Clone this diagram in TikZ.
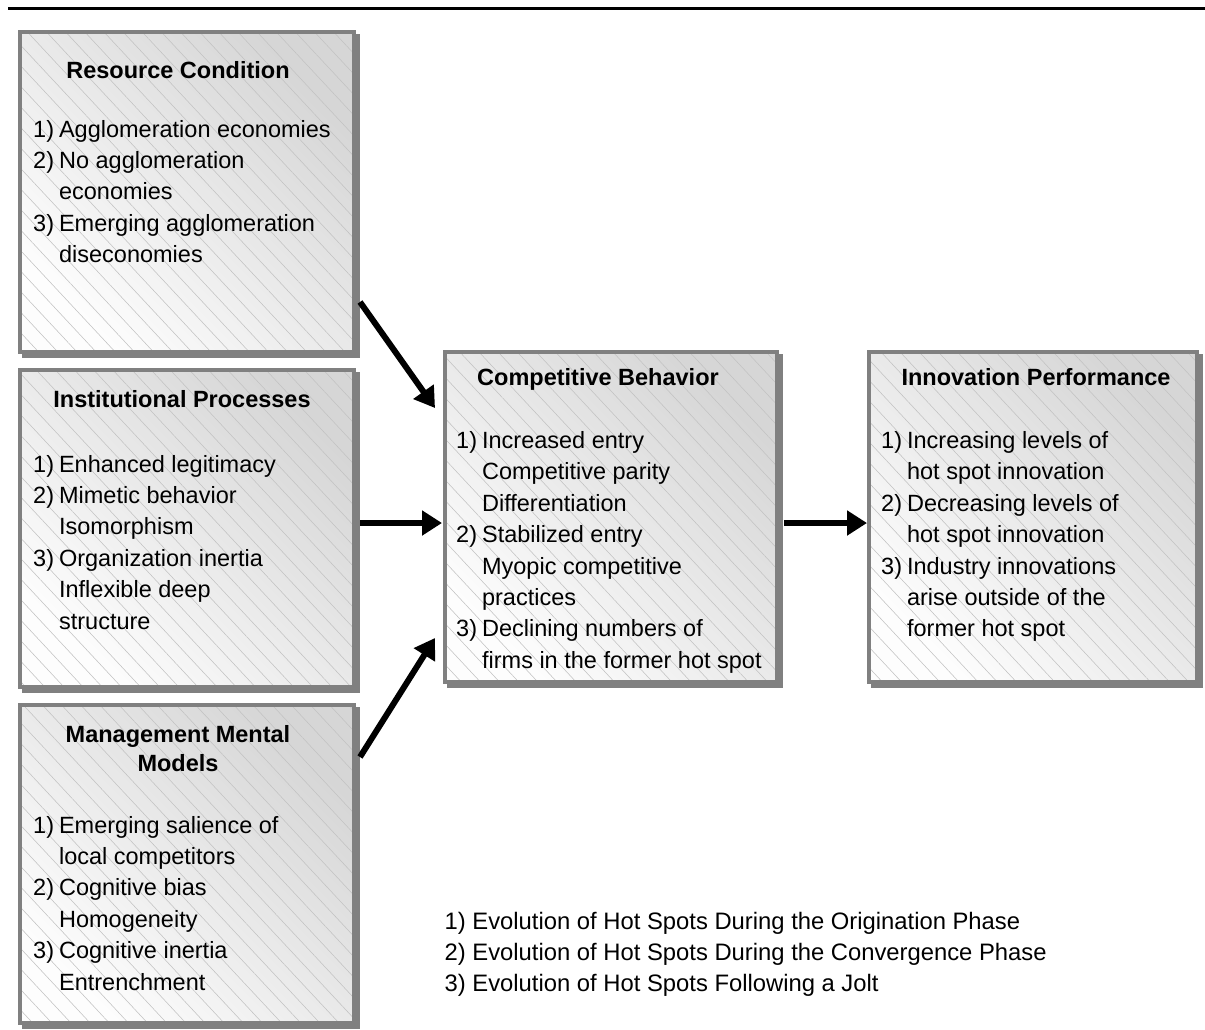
\documentclass[tikz,border=0pt]{standalone}
\usepackage{fontspec}
\setmainfont{Liberation Sans}
\usetikzlibrary{arrows.meta,patterns.meta,shadows}

\definecolor{framegray}{HTML}{808080}
\definecolor{shadelight}{HTML}{FDFDFD}
\definecolor{shadedark}{HTML}{D6D6D6}
\definecolor{hatchgray}{HTML}{C2C2C2}

\tikzset{
  panel/.style={rectangle, draw=framegray, line width=4pt, inner sep=0pt,
    drop shadow={shadow xshift=4pt, shadow yshift=-4pt, fill=framegray,
      draw=framegray, line width=4pt, opacity=1},
    preaction={shade, top color=shadedark, bottom color=shadelight, shading angle=-45},
    preaction={pattern={Lines[angle=-47,distance=14pt,line width=0.55pt]},
      pattern color=hatchgray}},
  paneltitle/.style={anchor=base, inner sep=0pt,
    font=\fontsize{23.5}{29}\selectfont\bfseries},
  paneltext/.style={anchor=base west, inner sep=0pt,
    font=\fontsize{23.5}{31.4}\selectfont},
  legendtext/.style={anchor=base west, inner sep=0pt,
    font=\fontsize{23.8}{31.3}\selectfont},
  flow/.style={line width=6pt, -{Triangle[length=20pt,width=24pt]}}
}

\begin{document}
\begin{tikzpicture}[x=1pt,y=-1pt]
\useasboundingbox (0,0) rectangle (1205,1029);

% rule across the top
\draw[line width=2.7pt] (8,8.5) -- (1205,8.5);

% panels
\node[panel, minimum width=334pt, minimum height=320pt] (b1) at (187,192) {};
\node[panel, minimum width=334pt, minimum height=317pt] (b2) at (187,528.5) {};
\node[panel, minimum width=334pt, minimum height=318pt] (b3) at (187,864) {};
\node[panel, minimum width=332pt, minimum height=330pt] (b4) at (611,517) {};
\node[panel, minimum width=328pt, minimum height=330pt] (b5) at (1033,517) {};

% panel titles
\node[paneltitle] (t1) at (178,78) {Resource Condition};
\node[paneltitle] (t2) at (182,407) {Institutional Processes};
\node[paneltitle] (t3) at (178,742) {\begin{tabular}[t]{@{}c@{}}Management Mental\\Models\end{tabular}};
\node[paneltitle] (t4) at (598,385) {Competitive Behavior};
\node[paneltitle] (t5) at (1036,385) {Innovation Performance};

% panel contents
\node[paneltext] (i1) at (33,137) {\begin{tabular}[t]{@{}l@{\hspace{5pt}}l@{}}
1) & Agglomeration economies\\
2) & No agglomeration\\
   & economies\\
3) & Emerging agglomeration\\
   & diseconomies
\end{tabular}};

\node[paneltext] (i2) at (33,472) {\begin{tabular}[t]{@{}l@{\hspace{5pt}}l@{}}
1) & Enhanced legitimacy\\
2) & Mimetic behavior\\
   & Isomorphism\\
3) & Organization inertia\\
   & Inflexible deep\\
   & structure
\end{tabular}};

\node[paneltext] (i3) at (33,833) {\begin{tabular}[t]{@{}l@{\hspace{5pt}}l@{}}
1) & Emerging salience of\\
   & local competitors\\
2) & Cognitive bias\\
   & Homogeneity\\
3) & Cognitive inertia\\
   & Entrenchment
\end{tabular}};

\node[paneltext] (i4) at (456,448.5) {\begin{tabular}[t]{@{}l@{\hspace{5pt}}l@{}}
1) & Increased entry\\
   & Competitive parity\\
   & Differentiation\\
2) & Stabilized entry\\
   & Myopic competitive\\
   & practices\\
3) & Declining numbers of\\
   & firms in the former hot spot
\end{tabular}};

\node[paneltext] (i5) at (881,448.5) {\begin{tabular}[t]{@{}l@{\hspace{5pt}}l@{}}
1) & Increasing levels of\\
   & hot spot innovation\\
2) & Decreasing levels of\\
   & hot spot innovation\\
3) & Industry innovations\\
   & arise outside of the\\
   & former hot spot
\end{tabular}};

% legend of phases
\node[legendtext] (lg) at (444.5,929) {\begin{tabular}[t]{@{}l@{}}
1) Evolution of Hot Spots During the Origination Phase\\
2) Evolution of Hot Spots During the Convergence Phase\\
3) Evolution of Hot Spots Following a Jolt
\end{tabular}};

% connectors
\draw[flow] ([xshift=4pt,yshift=52pt]b1.south east) -- ([xshift=-8pt,yshift=-58pt]b4.north west);
\draw[flow] ([xshift=4pt,yshift=5.5pt]b2.east) -- ([xshift=-1pt,yshift=-6pt]b4.west);
\draw[flow] ([xshift=4pt,yshift=-54pt]b3.north east) -- ([xshift=-8pt,yshift=46pt]b4.south west);
\draw[flow] ([xshift=5pt,yshift=-6pt]b4.east) -- ([yshift=-6pt]b5.west);
\end{tikzpicture}
\end{document}
